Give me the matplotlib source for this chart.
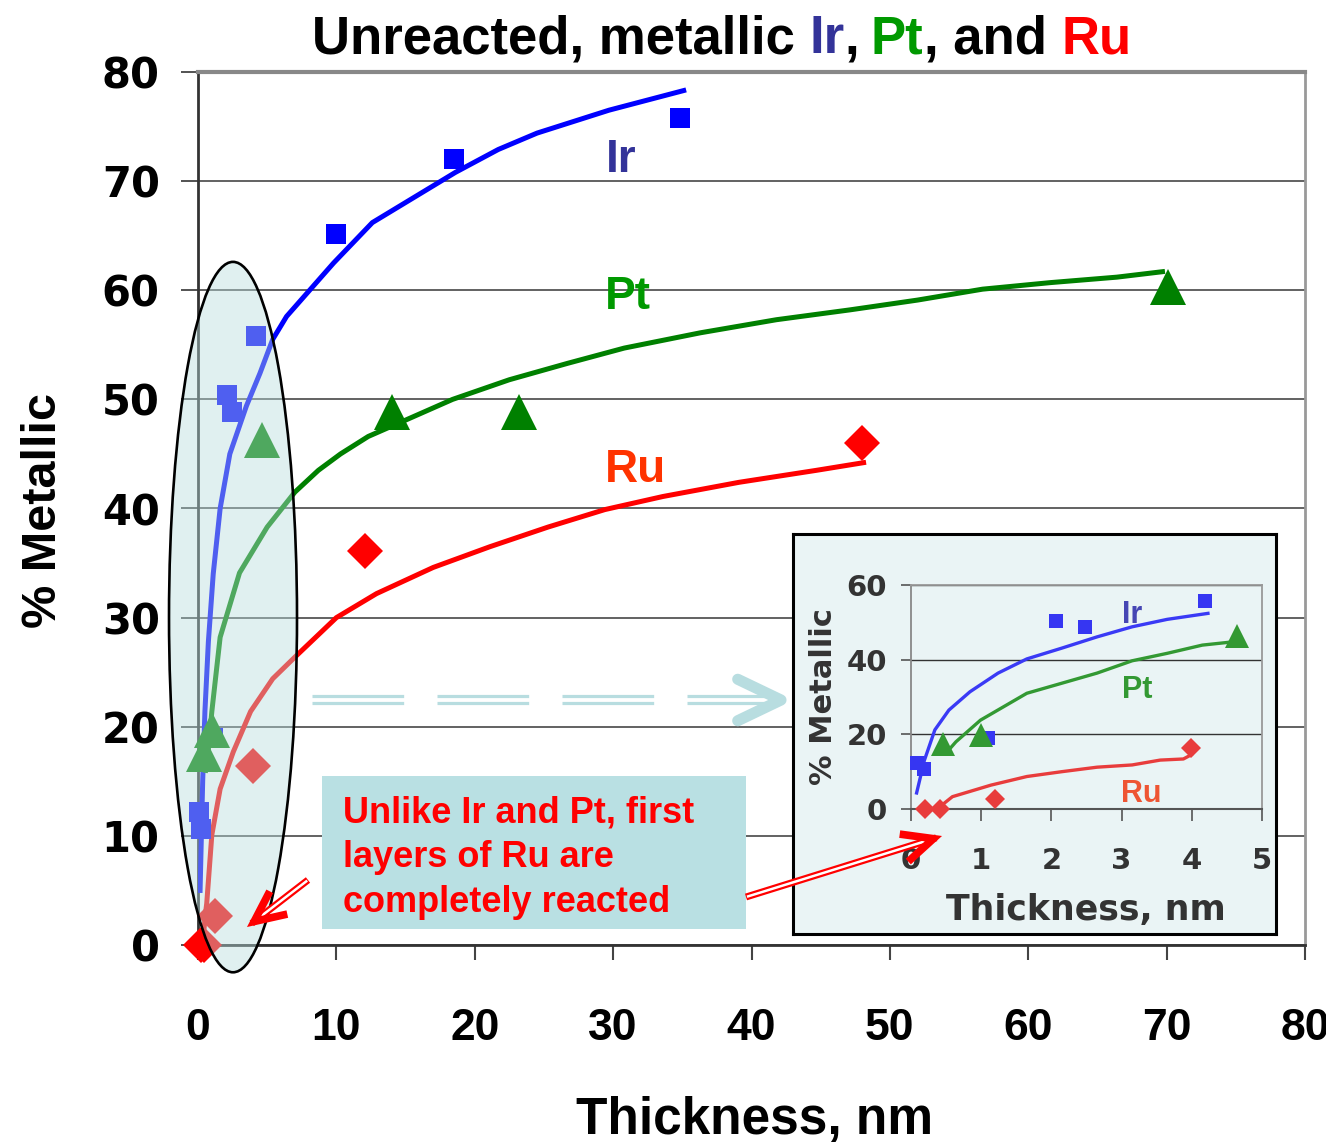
import numpy as np
import matplotlib
matplotlib.use("Agg")
import matplotlib.pyplot as plt
from matplotlib.patches import Ellipse, Rectangle
from matplotlib.lines import Line2D

# measured points (thickness in nm, % metallic)
ir_x = [0.08, 0.19, 1.09, 2.07, 2.48, 4.19, 10.0, 18.5, 34.8]
ir_y = [12.2, 10.6, 19.0, 50.4, 48.8, 55.8, 65.2, 72.0, 75.8]
pt_x = [0.45, 1.0, 4.64, 14.0, 23.2, 70.1]
pt_y = [17.5, 19.7, 46.3, 48.8, 48.8, 60.3]
ru_x = [0.2, 0.41, 1.2, 3.99, 12.1, 48.0]
ru_y = [0.0, 0.0, 2.7, 16.4, 36.1, 46.0]

# fitted curves, full range
ir_fit_x = [0.15, 0.34, 0.5, 0.75, 1.1, 1.6, 2.3, 3.5, 4.48, 5.4, 6.4, 9.8, 12.6, 18.6, 21.7, 24.5, 29.7, 35.1]
ir_fit_y = [5.0, 15.1, 21.4, 27.8, 34.0, 40.0, 45.0, 49.4, 52.4, 55.5, 57.6, 62.5, 66.2, 70.8, 72.9, 74.4, 76.5, 78.3]
pt_fit_x = [0.55, 0.75, 1.0, 1.6, 3.0, 5.0, 7.0, 8.7, 10.3, 12.3, 15.0, 18.4, 22.5, 26.7, 30.8, 36.3, 41.8, 47.1, 52.0, 56.7, 61.6, 66.4, 69.7]
pt_fit_y = [16.0, 18.0, 21.4, 28.2, 34.1, 38.3, 41.5, 43.5, 45.0, 46.6, 48.1, 50.0, 51.8, 53.3, 54.7, 56.1, 57.3, 58.2, 59.1, 60.1, 60.7, 61.2, 61.7]
ru_fit_x = [0.4, 0.55, 0.63, 1.0, 1.6, 2.55, 3.8, 5.4, 7.1, 10.0, 12.9, 17.0, 21.1, 25.3, 29.4, 33.6, 39.1, 44.7, 48.1]
ru_fit_y = [1.0, 3.0, 3.8, 10.1, 14.3, 17.7, 21.4, 24.4, 26.5, 30.0, 32.2, 34.6, 36.5, 38.3, 39.9, 41.1, 42.4, 43.5, 44.2]

# fitted curves, first 5 nm
ir_in_x = [0.08, 0.19, 0.34, 0.54, 0.84, 1.24, 1.65, 2.15, 2.65, 3.15, 3.65, 4.23]
ir_in_y = [4.3, 13.0, 21.2, 26.5, 31.4, 36.4, 40.2, 43.1, 46.1, 48.8, 50.8, 52.4]
pt_in_x = [0.5, 0.64, 0.99, 1.65, 2.15, 2.65, 3.15, 3.65, 4.15, 4.6]
pt_in_y = [15.0, 18.0, 23.8, 31.0, 33.7, 36.4, 39.7, 41.7, 43.9, 44.8]
ru_in_x = [0.41, 0.59, 1.14, 1.65, 2.15, 2.65, 3.15, 3.55, 3.88, 3.99]
ru_in_y = [0.6, 3.3, 6.4, 8.7, 10.0, 11.2, 11.8, 13.1, 13.4, 14.5]

main_ticks = [0, 10, 20, 30, 40, 50, 60, 70, 80]
inset_xticks = [0, 1, 2, 3, 4, 5]
inset_yticks = [0, 20, 40, 60]

note_lines = ["Unlike Ir and Pt, first", "layers of Ru are", "completely reacted"]
title_parts = [("Unreacted, metallic ", "black"), ("Ir", "#333399"), (", ", "black"),
               ("Pt", "#009900"), (", and ", "black"), ("Ru", "#ff0000")]

W, H = 1326, 1146
plt.rcParams["font.family"] = ["Liberation Sans", "DejaVu Sans"]
plt.rcParams["font.weight"] = "bold"
plt.rcParams["lines.scale_dashes"] = False

fig = plt.figure(figsize=(W / 100, H / 100), dpi=100)


def fx(px):
    return px / W


def fy(py):
    return 1 - py / H


def pix_line(xs, ys, **kw):
    ln = Line2D([fx(x) for x in xs], [fy(y) for y in ys], transform=fig.transFigure, **kw)
    fig.add_artist(ln)
    return ln


def chevron(tip, tail, length, half_deg, **kw):
    tip = np.array(tip, float)
    u = tip - np.array(tail, float)
    u /= np.hypot(*u)
    a = np.radians(half_deg)
    rot = lambda v, t: np.array([v[0] * np.cos(t) - v[1] * np.sin(t), v[0] * np.sin(t) + v[1] * np.cos(t)])
    p1 = tip - length * rot(u, a)
    p2 = tip - length * rot(u, -a)
    pix_line([p1[0], tip[0], p2[0]], [p1[1], tip[1], p2[1]], **kw)


# ---- main chart
ax = fig.add_axes([fx(198), fy(945), (1305 - 198) / W, (945 - 72) / H])
ax.set_xlim(0, 80)
ax.set_ylim(0, 80)
ax.set_xticks(main_ticks)
ax.set_yticks(main_ticks)
ax.set_axisbelow(True)
ax.yaxis.grid(True, color="#555555", lw=1.3)
ax.spines["left"].set(color="#333333", lw=2)
ax.spines["bottom"].set(color="#333333", lw=2)
ax.spines["top"].set(color="#888888", lw=3)
ax.spines["right"].set(color="#999999", lw=2)
ax.tick_params(axis="y", direction="out", length=12.5, width=1.3, color="#444444", labelsize=30, pad=15)
ax.tick_params(axis="x", direction="out", length=11, width=1.5, color="#444444", labelsize=32, pad=34)
for lbl in ax.get_yticklabels():
    lbl.set_fontfamily("DejaVu Sans")

ax.plot(ir_fit_x, ir_fit_y, color="#0000ff", lw=3.6, zorder=3)
ax.plot(pt_fit_x, pt_fit_y, color="#008000", lw=3.6, zorder=3)
ax.plot(ru_fit_x, ru_fit_y, color="#ff0000", lw=3.6, zorder=3)
ax.plot(ir_x, ir_y, "s", color="#0000ff", ms=14, mew=0, clip_on=False, zorder=4)
ax.plot(pt_x, pt_y, "^", color="#008000", ms=26, mew=0, clip_on=False, zorder=4)
ax.plot(ru_x, ru_y, "D", color="#ff0000", ms=18, mew=0, clip_on=False, zorder=4)

ax.text(30.6, 70.8, "Ir", color="#333399", fontsize=33, ha="center", va="baseline")
ax.text(31.1, 58.3, "Pt", color="#009900", fontsize=33, ha="center", va="baseline")
ax.text(31.6, 42.4, "Ru", color="#ff3300", fontsize=33, ha="center", va="baseline")

ax.add_patch(Ellipse((2.53, 30.05), 9.25, 65.1, facecolor=(184 / 255, 221 / 255, 221 / 255, 0.43),
                     edgecolor="black", lw=1.9, clip_on=False, zorder=6))

fig.text(fx(44), fy(510), "% Metallic", rotation=90, fontsize=35, ha="center", va="center")
fig.text(fx(754), fy(1134), "Thickness, nm", fontsize=37, ha="center", va="baseline")

# ---- title with coloured element names
renderer = fig.canvas.get_renderer()


def text_w(s, size):
    t = fig.text(0, 0, s + "x", fontsize=size)
    w = t.get_window_extent(renderer).width
    t.remove()
    return w


x_w = text_w("", 38)
prefix = ""
for s, c in title_parts:
    off = text_w(prefix, 38) - x_w
    fig.text(fx(312 + off), fy(53), s, color=c, fontsize=38, va="baseline")
    prefix += s

# ---- inset with the first 5 nm
box = fig.add_axes([fx(793), fy(934), (1276 - 793) / W, (934 - 534) / H])
box.set_facecolor("#eaf4f5")
box.set_xticks([])
box.set_yticks([])
for sp in box.spines.values():
    sp.set(color="black", lw=2.2)

ins = fig.add_axes([fx(911), fy(809), (1262 - 911) / W, (809 - 585) / H])
ins.set_facecolor("none")
ins.set_xlim(0, 5)
ins.set_ylim(0, 60)
ins.set_xticks(inset_xticks)
ins.set_yticks(inset_yticks)
ins.set_axisbelow(True)
ins.yaxis.grid(True, color="#333333", lw=1.0)
ins.spines["left"].set(color="#888888", lw=1.3)
ins.spines["bottom"].set(color="#555555", lw=1.5)
ins.spines["top"].set(color="#999999", lw=1.3)
ins.spines["right"].set(color="#999999", lw=1.3)
ins.tick_params(axis="y", direction="out", length=7.5, width=1.2, color="#555555",
                labelcolor="#333333", labelsize=21, pad=10)
ins.tick_params(axis="x", direction="out", length=8.5, width=1.2, color="#555555",
                labelcolor="#333333", labelsize=21, pad=19)
for lbl in ins.get_xticklabels() + ins.get_yticklabels():
    lbl.set_fontfamily("DejaVu Sans")

ins.plot(ir_in_x, ir_in_y, color="#3a3af5", lw=2.4, zorder=3)
ins.plot(pt_in_x, pt_in_y, color="#339933", lw=2.4, zorder=3)
ins.plot(ru_in_x, ru_in_y, color="#e83c3c", lw=2.4, zorder=3)
sel = lambda xs, ys: ([x for x in xs if x <= 5], [y for x, y in zip(xs, ys) if x <= 5])
ins.plot(*sel(ir_x, ir_y), "s", color="#3636f2", ms=9.5, mew=0, clip_on=False, zorder=4)
ins.plot(*sel(pt_x, pt_y), "^", color="#339933", ms=17, mew=0, clip_on=False, zorder=4)
ins.plot(*sel(ru_x, ru_y), "D", color="#e83c3c", ms=10.5, mew=0, clip_on=False, zorder=4)

ins.text(3.15, 49.8, "Ir", color="#4646b4", fontsize=22, ha="center", va="baseline")
ins.text(3.22, 29.7, "Pt", color="#339933", fontsize=22, ha="center", va="baseline")
ins.text(3.28, 1.9, "Ru", color="#ee5533", fontsize=22, ha="center", va="baseline")

fig.text(fx(823), fy(697), "% Metallic", rotation=90, fontsize=22, color="#333333",
         ha="center", va="center", family="DejaVu Sans")
fig.text(fx(1086), fy(920), "Thickness, nm", fontsize=25, color="#333333",
         ha="center", va="baseline", family="DejaVu Sans")

# ---- note box and arrows
fig.add_artist(Rectangle((fx(322), fy(929)), (746 - 322) / W, (929 - 776) / H,
                         transform=fig.transFigure, facecolor="#b9e0e3", edgecolor="none", zorder=4))
for i, line in enumerate(note_lines):
    fig.text(fx(343), fy(822 + 45 * i), line, color="#ff0000", fontsize=26, va="baseline", zorder=5)

# dashed pointer towards the inset
for yy in (696, 703):
    pix_line([312, 773], [yy, yy], color="#b8dde0", lw=2.3, dashes=(66, 24), zorder=5)
chevron((781, 700), (312, 700), 48, 25.6, color="#b8dde0", lw=8, solid_capstyle="round",
        solid_joinstyle="round", zorder=5)

# red hollow arrows
for tail, tip in [((308, 880), (247, 927)), ((746, 897), (942, 836))]:
    tail = np.array(tail, float)
    tip = np.array(tip, float)
    u = (tip - tail) / np.hypot(*(tip - tail))
    pix_line([tail[0], tip[0] - 6 * u[0]], [tail[1], tip[1] - 6 * u[1]], color="#ff0000", lw=5,
             solid_capstyle="butt", zorder=5)
    pix_line([tail[0] + u[0], tip[0] - 14 * u[0]], [tail[1] + u[1], tip[1] - 14 * u[1]], color="white",
             lw=1.8, solid_capstyle="butt", zorder=5)
    chevron(tip - 9 * u, tail, 34, 25, color="#ff0000", lw=5.5, solid_capstyle="butt",
            solid_joinstyle="miter", zorder=5)

fig.savefig("out.png", dpi=100)
